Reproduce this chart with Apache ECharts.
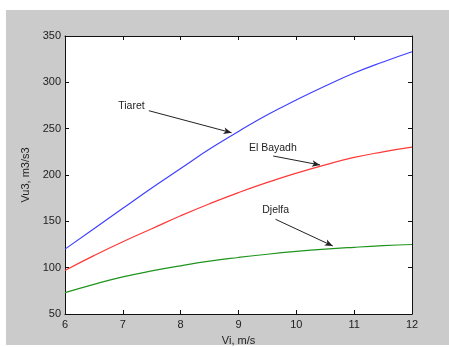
<!DOCTYPE html>
<html>
<head>
<meta charset="utf-8">
<script src="https://cdn.jsdelivr.net/npm/echarts@6/dist/echarts.min.js"></script>
<style>
  html, body { margin: 0; padding: 0; background: #ffffff; }
  #chart { width: 449px; height: 347px; }
</style>
</head>
<body>
<div id="chart"></div>
<script>
// Wind speed (m/s) on the x axis
const speeds = [6, 6.5, 7, 7.5, 8, 8.5, 9, 9.5, 10, 10.5, 11, 11.5, 12];

// Vu^3 curves per site
const tiaret   = [120, 142, 164, 186, 207, 228, 247, 265, 281, 296, 310, 322, 333];
const elBayadh = [97, 113, 128, 142, 156, 169, 181, 192, 202, 211, 219, 225, 230];
const djelfa   = [73, 82, 90, 96.5, 102, 107, 111, 114.5, 117.5, 120, 122, 123.7, 125];

const yTicks = [50, 100, 150, 200, 250, 300, 350];
const xTicks = [6, 7, 8, 9, 10, 11, 12];

// Callout labels: text anchor and arrow from/to, in data units
const callouts = [
  { text: 'Tiaret',    at: [6.92, 274.5], from: [7.45, 269.4], to: [8.88, 245.6] },
  { text: 'El Bayadh', at: [9.18, 229.0], from: [9.60, 220.5], to: [10.41, 210.8] },
  { text: 'Djelfa',    at: [9.41, 162.2], from: [9.64, 152.2], to: [10.63, 123.4] }
];

const font = '"Liberation Sans", Arial, sans-serif';
const axisColor = '#111';
const textColor = '#222';

function pairs(ys) { return speeds.map((x, i) => [x, ys[i]]); }

const chart = echarts.init(document.getElementById('chart'), null, { renderer: 'canvas' });

const baseX = {
  type: 'value', min: xTicks[0], max: xTicks[xTicks.length - 1], interval: 1,
  axisLine: { show: true, onZero: false, lineStyle: { color: axisColor, width: 1 } },
  axisTick: { show: true, inside: true, length: 4, lineStyle: { color: axisColor } },
  splitLine: { show: false }
};
const baseY = {
  type: 'value', min: yTicks[0], max: yTicks[yTicks.length - 1], interval: 50,
  axisLine: { show: true, onZero: false, lineStyle: { color: axisColor, width: 1 } },
  axisTick: { show: true, inside: true, length: 4, lineStyle: { color: axisColor } },
  splitLine: { show: false }
};

const arrowLines = callouts.map(c => [
  { coord: c.from, symbol: 'none' },
  { coord: c.to, symbol: 'arrow', symbolSize: [5, 8] }
]);

const panel = {
  type: 'rect', z: -10, silent: true,
  shape: { x: 6, y: 10, width: 443, height: 335 },
  style: { fill: '#cbcbcb' }
};

chart.setOption({
  backgroundColor: '#ffffff',
  animation: false,
  grid: {
    left: 65, top: 36, right: 37, bottom: 33,
    outerBoundsMode: 'none', containLabel: false,
    backgroundColor: '#ffffff', show: true, borderWidth: 0
  },
  graphic: [panel],
  xAxis: [
    Object.assign({}, baseX, {
      position: 'bottom',
      name: 'Vi, m/s', nameLocation: 'middle', nameGap: 21,
      nameTextStyle: { color: textColor, fontFamily: font, fontSize: 11 },
      axisLabel: { color: textColor, fontFamily: font, fontSize: 11, margin: 5 }
    }),
    Object.assign({}, baseX, { position: 'top', axisLabel: { show: false } })
  ],
  yAxis: [
    Object.assign({}, baseY, {
      position: 'left',
      name: 'Vu3, m3/s3', nameLocation: 'middle', nameGap: 26, nameRotate: 90,
      nameTextStyle: { color: textColor, fontFamily: font, fontSize: 11 },
      axisLabel: { color: textColor, fontFamily: font, fontSize: 11, margin: 4 }
    }),
    Object.assign({}, baseY, { position: 'right', axisLabel: { show: false } })
  ],
  series: [
    {
      name: 'Tiaret', type: 'line', data: pairs(tiaret), smooth: true, showSymbol: false,
      lineStyle: { color: '#4040ff', width: 1.2 }, z: 3,
      markLine: {
        silent: true, symbol: ['none', 'arrow'], label: { show: false },
        lineStyle: { color: '#222', width: 1, type: 'solid' },
        data: arrowLines
      }
    },
    {
      name: 'El Bayadh', type: 'line', data: pairs(elBayadh), smooth: true, showSymbol: false,
      lineStyle: { color: '#ff3838', width: 1.2 }, z: 3
    },
    {
      name: 'Djelfa', type: 'line', data: pairs(djelfa), smooth: true, showSymbol: false,
      lineStyle: { color: '#1f951f', width: 1.2 }, z: 3
    }
  ]
});

// Callout texts placed from data coordinates
const texts = callouts.map(c => {
  const p = chart.convertToPixel({ gridIndex: 0 }, c.at);
  return {
    type: 'text', z: 5, silent: true, x: p[0], y: p[1],
    style: { text: c.text, fill: textColor, font: '10.5px ' + font, textAlign: 'left', textVerticalAlign: 'middle' }
  };
});
chart.setOption({ graphic: [panel].concat(texts) });
</script>
</body>
</html>
